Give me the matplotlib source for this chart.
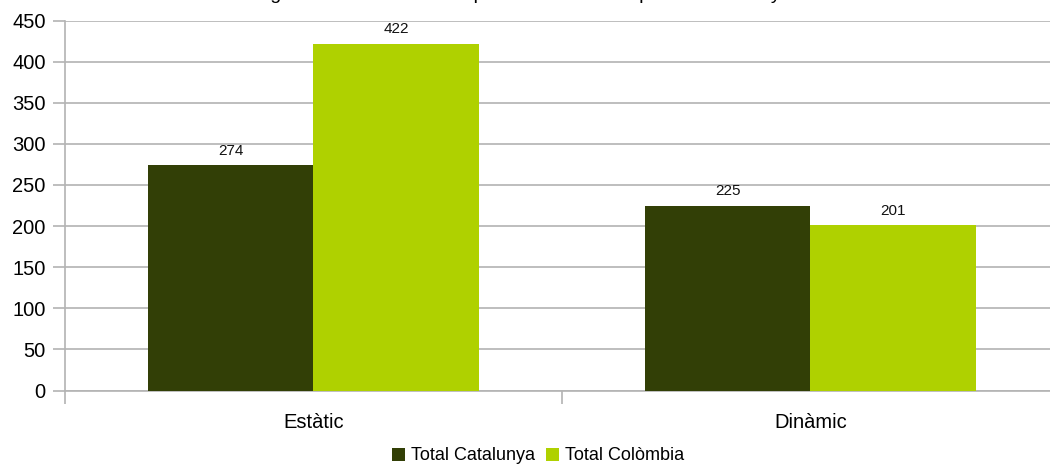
import matplotlib
matplotlib.use("Agg")
import matplotlib.pyplot as plt
import numpy as np

plt.rcParams['font.family'] = ['Liberation Sans', 'DejaVu Sans']

categories = ["Estàtic", "Dinàmic"]
series_names = ["Total Catalunya", "Total Colòmbia"]
catalunya = [274, 225]
colombia = [422, 201]
yticks = [0, 50, 100, 150, 200, 250, 300, 350, 400, 450]
title = "Figura 4. Estils d'atac emprats en els atacs que fan Catalunya i Colòmbia"

colors = ["#323f06", "#afd100"]
grid_color = "#b3b3b3"

fig = plt.figure(figsize=(10.5, 4.66), dpi=100)
ax = fig.add_axes([65 / 1050, 1 - 390.5 / 466, 994 / 1050, 370 / 466])

x = np.arange(len(categories))
w = 1 / 3
for i, (vals, name) in enumerate(zip([catalunya, colombia], series_names)):
    pos = x + (i - 0.5) * w
    ax.bar(pos, vals, width=w, color=colors[i], label=name, zorder=3)
    for p, v in zip(pos, vals):
        ax.annotate(str(v), (p, v), xytext=(0, 5.5), textcoords="offset points",
                    ha="center", va="bottom", fontsize=11, color="#111111")

ax.set_xlim(-0.5, len(categories) - 0.5)
ax.set_ylim(0, 450)
ax.set_yticks(yticks)
ax.set_xticks(x)
ax.set_xticklabels(categories, fontsize=14.5)
ax.set_xticks(np.arange(len(categories) + 1) - 0.5, minor=True)
ax.tick_params(axis="x", which="major", length=0, pad=16)
ax.tick_params(axis="x", which="minor", length=9, color=grid_color, width=1.2)
ax.tick_params(axis="y", length=9, color=grid_color, width=1.2, labelsize=14.5, pad=5)

ax.yaxis.grid(True, color=grid_color, linewidth=1.2, zorder=0)
for s in ["top", "right"]:
    ax.spines[s].set_visible(False)
for s in ["left", "bottom"]:
    ax.spines[s].set_color(grid_color)
    ax.spines[s].set_linewidth(1.2)

fig.text(572 / 1050, 1.0 + 1 / 466, title, ha="center", va="baseline", fontsize=14)

fig.legend(loc="center", bbox_to_anchor=(538 / 1050, 1 - 456 / 466), ncol=2,
           frameon=False, fontsize=13, handlelength=0.72, handleheight=0.72,
           handletextpad=0.35, columnspacing=0.6)

fig.savefig("out.png", dpi=100)
